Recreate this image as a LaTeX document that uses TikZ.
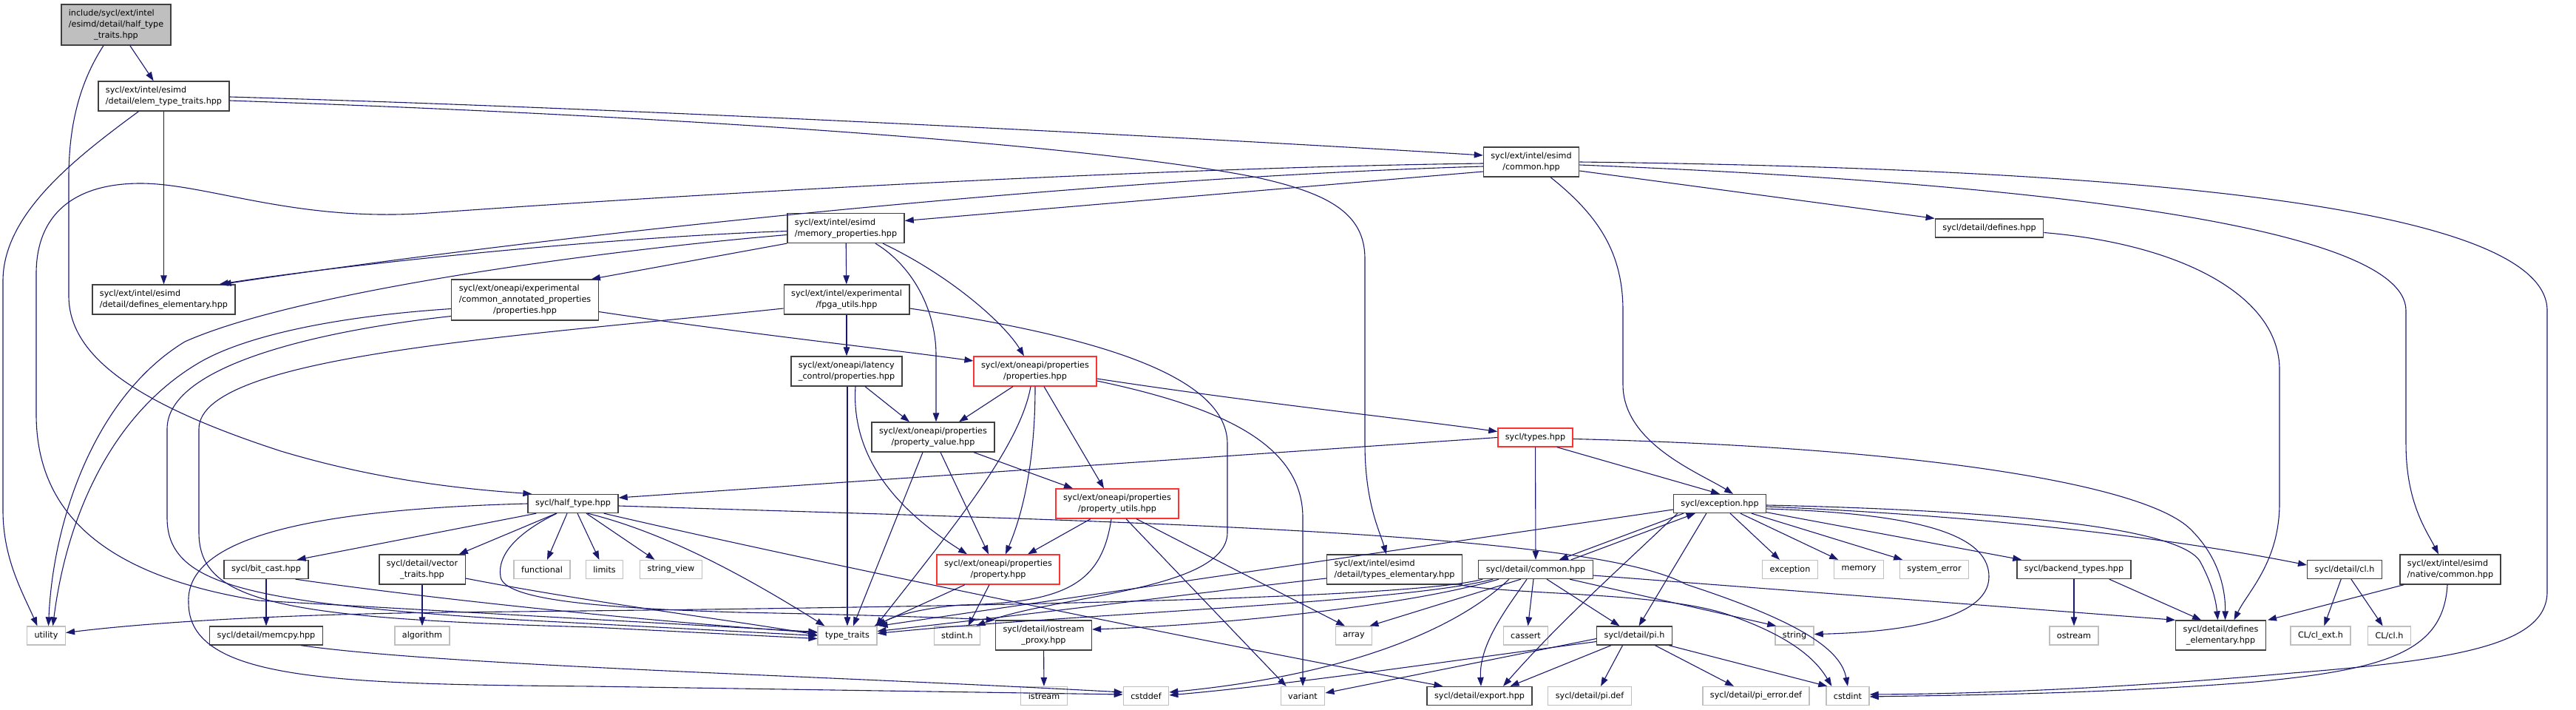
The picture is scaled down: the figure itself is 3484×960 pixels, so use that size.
\documentclass[tikz,border=0pt]{standalone}
\usepackage{fontspec}
\setmainfont{DejaVu Sans}
\usetikzlibrary{arrows.meta,calc,positioning}

\definecolor{edgeblue}{RGB}{25,25,112}
\definecolor{boxline}{RGB}{64,64,64}
\definecolor{extline}{RGB}{191,191,191}
\definecolor{truncred}{RGB}{255,50,50}
\definecolor{rootfill}{RGB}{191,191,191}

% label lines: all but the last left aligned, the last one centred
\newcommand{\flab}[2]{\begin{tabular}{@{}l@{}}#1\\\multicolumn{1}{@{}c@{}}{#2}\end{tabular}}
\newcommand{\flabb}[3]{\begin{tabular}{@{}l@{}}#1\\#2\\\multicolumn{1}{@{}c@{}}{#3}\end{tabular}}

\tikzset{
  hdr/.style={rectangle, draw=boxline, line width=1.3pt, fill=white, inner xsep=10pt, inner ysep=0pt, minimum height=25pt, font=\fontsize{11.2}{15}\selectfont},
  sysh/.style={hdr, draw=extline},
  trunch/.style={hdr, draw=truncred},
  rootbox/.style={hdr, fill=rootfill},
  twoline/.style={minimum height=40pt},
  threeline/.style={minimum height=55pt},
  incl/.style={draw=edgeblue, line width=1.1pt, -{Triangle[length=12pt,width=8.5pt]}},
}

\begin{document}
\begin{tikzpicture}[x=1pt,y=-1pt]
\useasboundingbox (0,0) rectangle (3484,960);

% The file itself
\node[rootbox, threeline] (root) at (157,33.5) {\flabb{include/sycl/ext/intel}{/esimd/detail/half\_type}{\_traits.hpp}};

% Project headers
\node[hdr, twoline] (elem) at (221.5,130) {\flab{sycl/ext/intel/esimd}{/detail/elem\_type\_traits.hpp}};
\node[hdr, twoline] (esimdcommon) at (2071,219) {\flab{sycl/ext/intel/esimd}{/common.hpp}};
\node[hdr, twoline] (memprops) at (1144,308.5) {\flab{sycl/ext/intel/esimd}{/memory\_properties.hpp}};
\node[hdr] (definesHpp) at (2690.5,308.5) {sycl/detail/defines.hpp};
\node[hdr, twoline] (defel1) at (221.5,405) {\flab{sycl/ext/intel/esimd}{/detail/defines\_elementary.hpp}};
\node[hdr, threeline] (commonAnnot) at (710,405.5) {\flabb{sycl/ext/oneapi/experimental}{/common\_annotated\_properties}{/properties.hpp}};
\node[hdr, twoline] (fpga) at (1145,405) {\flab{sycl/ext/intel/experimental}{/fpga\_utils.hpp}};
\node[hdr, twoline] (latency) at (1145,502) {\flab{sycl/ext/oneapi/latency}{\_control/properties.hpp}};
\node[trunch, twoline] (propsHpp) at (1400,502) {\flab{sycl/ext/oneapi/properties}{/properties.hpp}};
\node[hdr, twoline] (propValue) at (1262,591) {\flab{sycl/ext/oneapi/properties}{/property\_value.hpp}};
\node[trunch] (typesHpp) at (2076.5,591.5) {sycl/types.hpp};
\node[trunch, twoline] (propUtils) at (1511,681) {\flab{sycl/ext/oneapi/properties}{/property\_utils.hpp}};
\node[hdr] (halfType) at (775,681) {sycl/half\_type.hpp};
\node[hdr] (exception) at (2326,681) {sycl/exception.hpp};
\node[hdr] (bitCast) at (360,770) {sycl/bit\_cast.hpp};
\node[hdr, twoline] (vectorTraits) at (571,770) {\flab{sycl/detail/vector}{\_traits.hpp}};
\node[trunch, twoline] (property) at (1350,770) {\flab{sycl/ext/oneapi/properties}{/property.hpp}};
\node[hdr, twoline] (typesElem) at (1886,770) {\flab{sycl/ext/intel/esimd}{/detail/types\_elementary.hpp}};
\node[hdr] (detailCommon) at (2077,770) {sycl/detail/common.hpp};
\node[hdr] (backendTypes) at (2805,770) {sycl/backend\_types.hpp};
\node[hdr] (clh) at (3171,770) {sycl/detail/cl.h};
\node[hdr, twoline] (nativeCommon) at (3314,770) {\flab{sycl/ext/intel/esimd}{/native/common.hpp}};
\node[hdr] (memcpy) at (360,859.5) {sycl/detail/memcpy.hpp};
\node[hdr, twoline] (iostreamProxy) at (1411.5,859) {\flab{sycl/detail/iostream}{\_proxy.hpp}};
\node[hdr] (pih) at (2210.5,859.5) {sycl/detail/pi.h};
\node[hdr, twoline] (definesElem2) at (3003.5,859) {\flab{sycl/detail/defines}{\_elementary.hpp}};
\node[hdr] (export) at (2001,941) {sycl/detail/export.hpp};

% System headers
\foreach \nm/\px/\py/\txt in {
    functional/733/770/functional, limits/817.5/770/limits, strview/907.5/770/string\_view,
    excstd/2421/770/exception, memory/2514/770/memory, syserr/2616/770/system\_error,
    utility/62.5/859.5/utility, algorithm/571/859.5/algorithm, typetr/1146/859.5/type\_traits,
    stdinth/1294.5/859.5/stdint.h, array/1831/859.5/array, cassert/2063.5/859.5/cassert,
    stringh/2427/859.5/string, ostream/2805/859.5/ostream,
    clext/3138.5/859.5/{CL/cl\_ext.h}, clcl/3231.5/859.5/{CL/cl.h},
    istream/1412/941/istream, cstddef/1550/941/cstddef, variant/1762/941/variant,
    pidef/2150/941/{sycl/detail/pi.def}, pierror/2375/941/{sycl/detail/pi\_error.def},
    cstdint/2499/941/cstdint} {
    \node[sysh] (\nm) at (\px,\py) {\txt};
}

% Plain straight includes
\foreach \a/\b in {root/elem, elem/defel1, memprops/fpga, fpga/latency, typesHpp/detailCommon,
    bitCast/memcpy, vectorTraits/algorithm, iostreamProxy/istream, backendTypes/ostream,
    clh/clext, clh/clcl, exception/excstd, exception/memory, exception/syserr, exception/backendTypes} {
    \draw[incl] (\a) -- (\b);
}

% half_type_traits.hpp
\draw[incl] ($(root.south)+(-17,0)$) .. controls (112,105) and (93,160) .. (93,240) -- (93,400)
    .. controls (93,480) and (180,545) .. (380,610) .. controls (520,652) and (640,662) .. ($(halfType.north west)+(6,0)$);

% elem_type_traits.hpp
\draw[incl] ($(elem.south)+(-34,0)$) .. controls (100,215) and (4,290) .. (4,380) -- (4,690)
    .. controls (4,755) and (30,800) .. ($(utility.north)+(-12,0)$);
\draw[incl] ($(elem.east)+(0,1)$) .. controls (900,148) and (1650,188) .. ($(esimdcommon.west)+(0,-9)$);
\draw[incl] ($(elem.east)+(0,6)$) .. controls (1000,160) and (1500,200) .. (1700,240)
    .. controls (1800,262) and (1846,290) .. (1846,350) -- (1846,600)
    .. controls (1846,680) and (1866,718) .. ($(typesElem.north)+(-11,0)$);

% esimd/common.hpp
\draw[incl] ($(esimdcommon.west)+(0,13)$) -- ($(memprops.east)+(0,-10)$);
\draw[incl] ($(esimdcommon.west)+(0,6)$) .. controls (1500,240) and (800,310) .. ($(defel1.north east)+(-18,0)$);
\draw[incl] ($(esimdcommon.west)+(0,2)$) .. controls (1600,226) and (1000,258) .. (580,288)
    .. controls (400,301) and (280,248) .. (190,248) .. controls (100,248) and (49,290) .. (49,370) -- (49,560)
    .. controls (49,700) and (150,780) .. (350,812) -- ($(typetr.west)+(0,-5)$);
\draw[incl] ($(esimdcommon.south)+(26,0)$) .. controls (2160,290) and (2195,340) .. (2195,420) -- (2195,520)
    .. controls (2195,600) and (2300,640) .. ($(exception.north)+(18,0)$);
\draw[incl] ($(esimdcommon.east)+(0,12)$) -- (definesHpp.north west);
\draw[incl] ($(esimdcommon.east)+(0,4)$) .. controls (2700,245) and (3254,300) .. (3254,420) -- (3254,600)
    .. controls (3254,680) and (3282,718) .. ($(nativeCommon.north)+(-16,0)$);
\draw[incl] (esimdcommon.east) .. controls (2900,228) and (3445,280) .. (3445,420) -- (3445,800)
    .. controls (3445,870) and (3330,892) .. (3100,910) .. controls (2900,928) and (2700,938) .. ($(cstdint.east)+(0,-2)$);

% memory_properties.hpp
\draw[incl] ($(memprops.west)+(0,4)$) .. controls (800,322) and (450,360) .. ($(defel1.north east)+(-22,0)$);
\draw[incl] ($(memprops.west)+(0,9)$) .. controls (800,340) and (400,395) .. (250,462)
    .. controls (130,535) and (72,700) .. ($(utility.north)+(3,0)$);
\draw[incl] (memprops.south west) -- ($(commonAnnot.north east)+(-10,0)$);
\draw[incl] ($(memprops.south)+(40,0)$) .. controls (1235,360) and (1266,420) .. (1266,480) -- ($(propValue.north)+(4,0)$);
\draw[incl] ($(memprops.south)+(50,0)$) .. controls (1290,375) and (1360,440) .. ($(propsHpp.north)+(-15,0)$);

% common_annotated_properties/properties.hpp
\draw[incl] ($(commonAnnot.west)+(0,12)$) .. controls (450,428) and (330,455) .. (270,490)
    .. controls (150,560) and (90,700) .. ($(utility.north)+(9,0)$);
\draw[incl] ($(commonAnnot.west)+(0,22)$) .. controls (450,445) and (226,490) .. (226,580) -- (226,700)
    .. controls (226,790) and (330,815) .. (700,838) -- (typetr.west);
\draw[incl] ($(commonAnnot.east)+(0,16)$) .. controls (1000,450) and (1200,472) .. ($(propsHpp.west)+(0,-14)$);

% fpga_utils.hpp
\draw[incl] ($(fpga.west)+(0,12)$) .. controls (700,455) and (269,480) .. (269,580) -- (269,720)
    .. controls (269,815) and (380,836) .. (800,848) -- ($(typetr.west)+(0,4)$);
\draw[incl] ($(fpga.east)+(0,12)$) .. controls (1450,450) and (1660,500) .. (1660,600) -- (1660,720)
    .. controls (1660,800) and (1420,805) .. ($(stdinth.north east)+(-6,0)$);

% latency_control/properties.hpp
\draw[incl] ($(latency.south)+(25,0)$) -- ($(propValue.north)+(-32,0)$);
\draw[incl] ($(latency.south)+(12,0)$) .. controls (1150,630) and (1230,700) .. ($(property.north)+(-42,0)$);
\draw[incl] ($(latency.south)+(1,0)$) -- (typetr.north);

% properties/properties.hpp
\draw[incl] ($(propsHpp.south)+(-30,0)$) -- ($(propValue.north)+(35,0)$);
\draw[incl] ($(propsHpp.south)+(-6,0)$) .. controls (1380,600) and (1300,700) .. ($(typetr.north east)+(-2,0)$);
\draw[incl] (propsHpp.south) .. controls (1400,620) and (1385,690) .. ($(property.north)+(10,0)$);
\draw[incl] ($(propsHpp.south)+(12,0)$) -- ($(propUtils.north)+(-18,0)$);
\draw[incl] ($(propsHpp.east)+(0,10)$) .. controls (1700,545) and (1900,566) .. ($(typesHpp.west)+(0,-8)$);
\draw[incl] ($(propsHpp.east)+(0,13)$) .. controls (1650,550) and (1762,600) .. (1762,700) -- (variant.north);

% property_value.hpp, property_utils.hpp, property.hpp
\draw[incl] ($(propValue.south)+(10,0)$) -- ($(property.north)+(-13,0)$);
\draw[incl] ($(propValue.south)+(55,0)$) -- ($(propUtils.north)+(-60,0)$);
\draw[incl] ($(propValue.south)+(-14,0)$) -- ($(typetr.north)+(8,0)$);
\draw[incl] ($(propUtils.south)+(-36,0)$) -- ($(property.north)+(40,0)$);
\draw[incl] ($(propUtils.south)+(-8,0)$) .. controls (1490,790) and (1440,815) .. (1300,818)
    .. controls (1250,822) and (1210,832) .. (typetr.north east);
\draw[incl] ($(propUtils.south)+(12,0)$) -- ($(variant.north west)+(8,0)$);
\draw[incl] ($(propUtils.south)+(26,0)$) -- ($(array.north)+(-12,0)$);
\draw[incl] ($(property.south)+(-45,0)$) -- ($(typetr.north east)+(-4,0)$);
\draw[incl] ($(property.south)+(-12,0)$) -- ($(stdinth.north)+(15,0)$);

% types.hpp
\draw[incl] (typesHpp.west) -- ($(halfType.east)+(0,-8)$);
\draw[incl] ($(typesHpp.south east)+(-22,0)$) -- (exception.north);
\draw[incl] ($(typesHpp.east)+(0,2)$) .. controls (2600,605) and (2900,655) .. (2962,715)
    .. controls (3000,752) and (3010,795) .. ($(definesElem2.north)+(6,0)$);

% half_type.hpp
\draw[incl] ($(halfType.south west)+(12,0)$) -- ($(bitCast.north east)+(-16,0)$);
\draw[incl] ($(halfType.south west)+(39,0)$) -- ($(vectorTraits.north east)+(-9,0)$);
\draw[incl] ($(halfType.south)+(-8,0)$) -- ($(functional.north)+(7,0)$);
\draw[incl] ($(halfType.south)+(6,0)$) -- ($(limits.north)+(-7,0)$);
\draw[incl] ($(halfType.south)+(18,0)$) -- ($(strview.north)+(-22,0)$);
\draw[incl] ($(halfType.south east)+(-42,0)$) .. controls (900,720) and (1010,780) .. ($(typetr.north west)+(10,0)$);
\draw[incl] ($(halfType.south)+(-22,0)$) .. controls (700,720) and (672,750) .. (677,780)
    .. controls (682,810) and (800,822) .. (1000,828) .. controls (1200,832) and (1300,836) .. (iostreamProxy.north west);
\draw[incl] (halfType.west) .. controls (450,688) and (250,720) .. (255,815)
    .. controls (255,920) and (450,925) .. (800,928) -- ($(cstddef.west)+(0,-2)$);
\draw[incl] ($(halfType.south east)+(-20,0)$) .. controls (1100,760) and (1600,862) .. ($(export.north west)+(22,0)$);
\draw[incl] ($(halfType.east)+(0,3)$) .. controls (1500,705) and (2150,718) .. (2280,790)
    .. controls (2440,842) and (2490,880) .. (cstdint.north);

% bit_cast.hpp, vector_traits.hpp, memcpy.hpp
\draw[incl] ($(bitCast.south east)+(-18,0)$) .. controls (600,812) and (900,842) .. ($(typetr.west)+(0,-4)$);
\draw[incl] ($(vectorTraits.east)+(0,12)$) .. controls (800,815) and (1000,840) .. ($(typetr.west)+(0,-1)$);
\draw[incl] ($(memcpy.south east)+(-30,0)$) .. controls (600,900) and (1100,913) .. ($(cstddef.west)+(0,-5)$);

% types_elementary.hpp
\draw[incl] ($(typesElem.west)+(0,12)$) .. controls (1700,792) and (1400,830) .. ($(typetr.east)+(0,-6)$);
\draw[incl] ($(typesElem.south east)+(-5,0)$) .. controls (2050,805) and (2250,800) .. (2340,832)
    .. controls (2420,860) and (2455,890) .. ($(cstdint.north west)+(8,0)$);

% exception.hpp
\draw[incl] ($(exception.south west)+(14,0)$) -- ($(detailCommon.north east)+(-46,0)$);
\draw[incl] ($(exception.south west)+(45,0)$) -- ($(pih.north)+(6,0)$);
\draw[incl] ($(exception.west)+(0,8)$) -- ($(typetr.north east)+(2,0)$);
\draw[incl] ($(exception.south west)+(6,0)$) .. controls (2200,760) and (2110,840) .. ($(export.north)+(32,0)$);
\draw[incl] ($(exception.east)+(0,7)$) .. controls (2620,695) and (2690,730) .. (2690,780)
    .. controls (2690,840) and (2560,855) .. ($(stringh.east)+(0,-2)$);
\draw[incl] ($(exception.east)+(0,2)$) .. controls (2700,690) and (2950,712) .. (2976,760)
    .. controls (2992,790) and (2997,812) .. ($(definesElem2.north)+(-4,0)$);
\draw[incl] ($(exception.east)+(0,4)$) .. controls (2700,698) and (2950,730) .. ($(clh.west)+(0,-6)$);

% detail/common.hpp
\draw[incl] ($(detailCommon.north east)+(-30,0)$) -- ($(exception.south west)+(30,0)$);
\draw[incl] ($(detailCommon.south west)+(6,0)$) .. controls (1900,812) and (1200,822) .. (600,828)
    .. controls (300,832) and (150,848) .. ($(utility.east)+(0,-4)$);
\draw[incl] ($(detailCommon.south west)+(20,0)$) .. controls (1900,815) and (1450,830) .. ($(typetr.east)+(0,-3)$);
\draw[incl] ($(detailCommon.south west)+(28,0)$) .. controls (1900,820) and (1650,845) .. ($(iostreamProxy.east)+(0,-8)$);
\draw[incl] ($(detailCommon.south)+(-36,0)$) .. controls (1960,860) and (1800,915) .. ($(cstddef.east)+(0,-5)$);
\draw[incl] ($(detailCommon.south)+(-20,0)$) -- ($(array.north east)+(-4,0)$);
\draw[incl] ($(detailCommon.south)+(-3,0)$) -- ($(cassert.north)+(3,0)$);
\draw[incl] ($(detailCommon.south)+(-12,0)$) .. controls (2040,820) and (2000,870) .. ($(export.north)+(2,0)$);
\draw[incl] ($(detailCommon.south)+(15,0)$) -- ($(pih.north)+(-20,0)$);
\draw[incl] ($(detailCommon.south east)+(-32,0)$) -- ($(stringh.north west)+(2,0)$);
\draw[incl] ($(detailCommon.east)+(0,8)$) -- (definesElem2.north west);

% pi.h
\draw[incl] ($(pih.west)+(0,4)$) -- ($(variant.east)+(0,-4)$);
\draw[incl] ($(pih.west)+(0,8)$) .. controls (1950,895) and (1750,925) .. ($(cstddef.east)+(0,-1)$);
\draw[incl] ($(pih.south west)+(20,0)$) -- ($(export.north east)+(-30,0)$);
\draw[incl] ($(pih.south)+(-16,0)$) -- ($(pidef.north)+(15,0)$);
\draw[incl] ($(pih.south)+(28,0)$) -- ($(pierror.north)+(-30,0)$);
\draw[incl] ($(pih.south east)+(-5,0)$) -- ($(cstdint.north west)+(2,0)$);

% right hand side
\draw[incl] ($(definesHpp.east)+(0,6)$) .. controls (2950,330) and (3083,400) .. (3083,500) -- (3083,680)
    .. controls (3083,760) and (3040,800) .. ($(definesElem2.north)+(18,0)$);
\draw[incl] ($(backendTypes.south east)+(-30,0)$) -- ($(definesElem2.north west)+(35,0)$);
\draw[incl] ($(nativeCommon.south west)+(6,0)$) -- ($(definesElem2.north east)+(2,0)$);
\draw[incl] ($(nativeCommon.south)+(-4,0)$) .. controls (3305,880) and (3230,905) .. (3050,922)
    .. controls (2850,938) and (2650,940) .. ($(cstdint.east)+(0,1)$);

\end{tikzpicture}
\end{document}
